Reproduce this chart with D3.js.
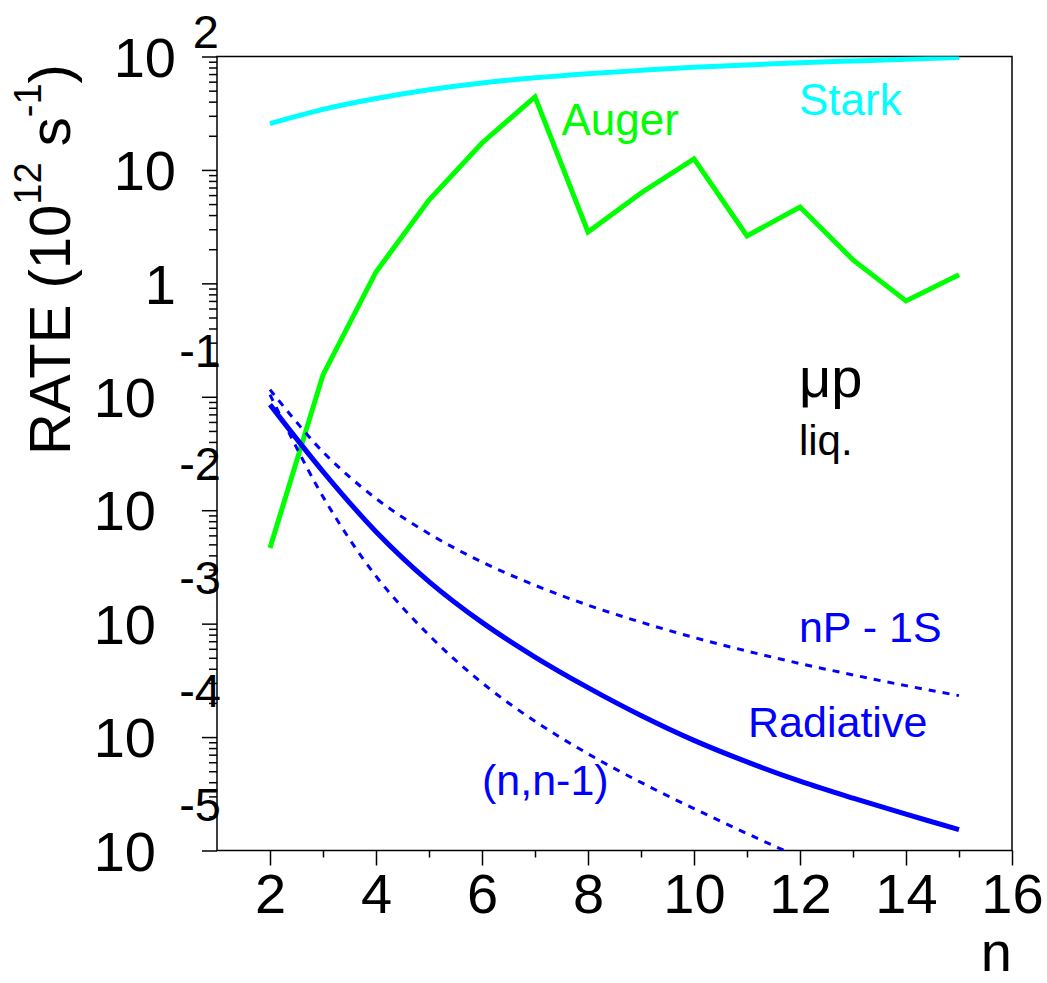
<!DOCTYPE html>
<html>
<head>
<meta charset="utf-8">
<script src="https://cdn.jsdelivr.net/npm/d3@7"></script>
<style>
  body { margin: 0; background: #fff; }
  svg { font-family: "Liberation Sans", Arial, Helvetica, sans-serif; }
</style>
</head>
<body>
<div id="chart"></div>
<script>
// principal quantum number n
const nValues = [2, 3, 4, 5, 6, 7, 8, 9, 10, 11, 12, 13, 14, 15];

// rates in 10^12 s^-1
const stark = [25.6, 34.2, 42.6, 50.9, 58.5, 64.9, 70.5, 75.5, 80.2, 84.3, 88.1, 91.4, 94.6, 97.9];
const auger = [0.00465, 0.156, 1.26, 5.43, 17.3, 44, 2.84, 6.26, 12.5, 2.62, 4.71, 1.61, 0.70, 1.19];
const radiative = [0.0853, 0.02193, 0.00647, 0.00235, 0.001026, 0.000508, 0.000273, 0.000155, 0.0000935, 0.0000604, 0.0000408, 0.0000289, 0.0000209, 0.0000153];
const npTo1s = [0.1156, 0.0326, 0.01268, 0.00621, 0.00349, 0.00218, 0.001456, 0.00103, 0.000755, 0.000573, 0.000445, 0.000353, 0.000284, 0.000232];
const nToNminus1 = [0.1045, 0.01315, 0.002624, 0.000792, 0.000301, 0.0001377, 0.0000712, 0.0000398, 0.0000234, 0.0000141, 0.0000087, 0.0000055, 0.0000035, 0.0000023];

const xMajorTicks = [2, 4, 6, 8, 10, 12, 14, 16];
const xMinorTicks = [3, 5, 7, 9, 11, 13, 15];
const yExponents = [-5, -4, -3, -2, -1, 0, 1, 2];

const W = 1047, H = 983;
const margin = { top: 56.5, right: 35, bottom: 132.5, left: 217 };
const width = W - margin.left - margin.right;
const height = H - margin.top - margin.bottom;

const svg = d3.select("#chart").append("svg")
  .attr("width", W)
  .attr("height", H);

const g = svg.append("g")
  .attr("transform", `translate(${margin.left},${margin.top})`);

const x = d3.scaleLinear().domain([1, 16]).range([0, width]);
const y = d3.scaleLog().domain([1e-5, 1e2]).range([height, 0]);

g.append("clipPath").attr("id", "frame-clip")
  .append("rect").attr("width", width).attr("height", height);

// x axis
const xMajor = g.append("g")
  .attr("transform", `translate(0,${height})`)
  .call(d3.axisBottom(x).tickValues(xMajorTicks).tickSize(15).tickSizeOuter(0).tickPadding(8).tickFormat(d3.format("d")));
g.append("g")
  .attr("transform", `translate(0,${height})`)
  .call(d3.axisBottom(x).tickValues(xMinorTicks).tickSize(7).tickSizeOuter(0).tickFormat(""));
xMajor.selectAll("text").style("font-size", "56px").attr("fill", "#000");

// y axis ticks
const yMinorVals = [];
yExponents.slice(0, -1).forEach(p => {
  for (let k = 2; k <= 9; k++) yMinorVals.push(k * Math.pow(10, p));
});
g.append("g")
  .call(d3.axisLeft(y).tickValues(yExponents.map(p => Math.pow(10, p))).tickSize(15).tickSizeOuter(0).tickFormat(""));
g.append("g")
  .call(d3.axisLeft(y).tickValues(yMinorVals).tickSize(8).tickSizeOuter(0).tickFormat(""));

g.selectAll(".domain").remove();
g.selectAll(".tick line").attr("stroke", "#000").attr("stroke-width", 1.5);

// y tick labels, ROOT style
yExponents.forEach(p => {
  const yy = y(Math.pow(10, p));
  if (p === 0 || p === 1) {
    g.append("text")
      .attr("x", -41).attr("y", yy).attr("dy", "0.36em")
      .attr("text-anchor", "end").style("font-size", "56px")
      .text(p === 0 ? "1" : "10");
  } else {
    const top = p === 2;
    g.append("text")
      .attr("x", top ? -41 : -61).attr("y", yy).attr("dy", "0.36em")
      .attr("text-anchor", "end").style("font-size", "56px")
      .text("10");
    g.append("text")
      .attr("x", top ? 2 : 4).attr("y", top ? yy - 9 : yy - 30)
      .attr("text-anchor", "end").style("font-size", "47px")
      .text(String(p));
  }
});

// frame
g.append("rect")
  .attr("width", width).attr("height", height)
  .attr("fill", "none").attr("stroke", "#000").attr("stroke-width", 1.5);

// curves
const plot = g.append("g").attr("clip-path", "url(#frame-clip)");
const smooth = d3.line().x((d, i) => x(nValues[i])).y(d => y(d)).curve(d3.curveCatmullRom);
const straight = d3.line().x((d, i) => x(nValues[i])).y(d => y(d));

plot.append("path").datum(stark).attr("d", smooth)
  .attr("fill", "none").attr("stroke", "#00ffff").attr("stroke-width", 5);
plot.append("path").datum(auger).attr("d", straight)
  .attr("fill", "none").attr("stroke", "#00ff00").attr("stroke-width", 5).attr("stroke-linejoin", "miter");
plot.append("path").datum(npTo1s).attr("d", smooth)
  .attr("fill", "none").attr("stroke", "#0000ff").attr("stroke-width", 3).attr("stroke-dasharray", "7,7");
plot.append("path").datum(nToNminus1).attr("d", smooth)
  .attr("fill", "none").attr("stroke", "#0000ff").attr("stroke-width", 3).attr("stroke-dasharray", "7,7");
plot.append("path").datum(radiative).attr("d", smooth)
  .attr("fill", "none").attr("stroke", "#0000ff").attr("stroke-width", 5);

// annotations
const note = (n, v, txt, color, size) => g.append("text")
  .attr("x", x(n)).attr("y", y(v))
  .attr("fill", color).style("font-size", size + "px")
  .text(txt);
note(11.98, 30.5, "Stark", "#00ffff", 44);
note(7.5, 20.3, "Auger", "#00ff00", 44);
note(11.98, 0.0995, "\u03bcp", "#000", 56);
note(11.98, 0.0307, "liq.", "#000", 42);
note(11.98, 6.9e-4, "nP - 1S", "#0000ff", 43);
note(11.02, 1.0e-4, "Radiative", "#0000ff", 43);
note(6.0, 3.09e-5, "(n,n-1)", "#0000ff", 43);

// axis titles
svg.append("text")
  .attr("x", 1012).attr("y", 971)
  .attr("text-anchor", "end").style("font-size", "56px")
  .text("n");

const yt = svg.append("text")
  .attr("transform", "translate(70,455) rotate(-90)")
  .style("font-size", "58px");
yt.append("tspan").text("RATE (10");
yt.append("tspan").attr("dy", -29).style("font-size", "38px").text("12");
yt.append("tspan").attr("dy", 29).text(" s");
yt.append("tspan").attr("dy", -29).style("font-size", "38px").text("-1");
yt.append("tspan").attr("dy", 29).text(")");
</script>
</body>
</html>
